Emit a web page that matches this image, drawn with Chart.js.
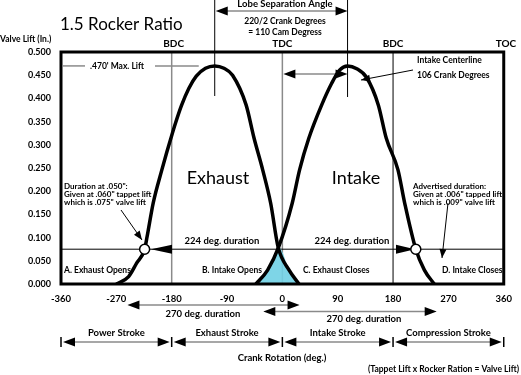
<!DOCTYPE html>
<html>
<head>
<meta charset="utf-8">
<script src="https://cdn.jsdelivr.net/npm/chart.js@4/dist/chart.umd.min.js"></script>
<style>
  html, body { margin: 0; padding: 0; background: #fff; }
  #wrap { width: 521px; height: 375px; }
</style>
</head>
<body>
<div id="wrap"><canvas id="cam" width="521" height="375"></canvas></div>
<script>
// crank degrees / valve lift
const exhaustDeg  = [-270, -250, -237, -224, -220, -210, -196, -188, -182, -174, -164, -152, -140, -125, -110, -95, -81, -59, -46, -32, -19, -7, 11, 27];
const exhaustLift = [0, 0.016, 0.045, 0.075, 0.102, 0.175, 0.246, 0.284, 0.311, 0.346, 0.385, 0.422, 0.448, 0.465, 0.470, 0.465, 0.450, 0.386, 0.314, 0.246, 0.174, 0.080, 0.030, 0];
const intakeDeg   = [-43, -24, -6, 16, 28, 43, 64, 80, 93, 106, 121, 137, 156, 169, 188, 199, 217, 231, 247];
const intakeLift  = [0, 0.030, 0.080, 0.174, 0.246, 0.314, 0.386, 0.432, 0.461, 0.470, 0.464, 0.445, 0.386, 0.314, 0.246, 0.174, 0.075, 0.030, 0];
const overlapDeg  = [-43, -24, -5, 11, 27];
const overlapLift = [0, 0.030, 0.078, 0.030, 0];
const markerDeg   = [-224, 217];
const markerLift  = [0.075, 0.075];
const crankTicks  = [-360, -270, -180, -90, 0, 90, 180, 270, 360];
const liftTicks   = [0, 0.05, 0.1, 0.15, 0.2, 0.25, 0.3, 0.35, 0.4, 0.45, 0.5];

const FONT = 'Lato, "Open Sans", sans-serif';
const GREY = '#8a8a8a';

const pts = (xs, ys) => xs.map((v, i) => ({ x: v, y: ys[i] }));

function head(ctx, x, y, ang, len, half) {
    ctx.save();
    ctx.translate(x, y);
    ctx.rotate(ang);
    ctx.beginPath();
    ctx.moveTo(0, 0);
    ctx.lineTo(-len, -half);
    ctx.lineTo(-len, half);
    ctx.closePath();
    ctx.fillStyle = '#000';
    ctx.fill();
    ctx.restore();
}

function hline(ctx, x1, x2, y, color, w) {
    ctx.beginPath();
    ctx.moveTo(x1, y);
    ctx.lineTo(x2, y);
    ctx.strokeStyle = color;
    ctx.lineWidth = w;
    ctx.stroke();
}

function vline(ctx, x, y1, y2, color, w) {
    ctx.beginPath();
    ctx.moveTo(x, y1);
    ctx.lineTo(x, y2);
    ctx.strokeStyle = color;
    ctx.lineWidth = w;
    ctx.stroke();
}

// double headed grey arrow
function span(ctx, x1, x2, y) {
    hline(ctx, x1 + 6, x2 - 6, y, GREY, 1.5);
    head(ctx, x1, y, Math.PI, 12, 4.5);
    head(ctx, x2, y, 0, 12, 4.5);
}

function pointer(ctx, x1, y1, x2, y2) {
    ctx.beginPath();
    ctx.moveTo(x1, y1);
    ctx.lineTo(x2, y2);
    ctx.strokeStyle = '#000';
    ctx.lineWidth = 1;
    ctx.stroke();
    head(ctx, x2, y2, Math.atan2(y2 - y1, x2 - x1), 9, 3.5);
}

function text(ctx, s, x, y, font, align) {
    ctx.font = font;
    ctx.textAlign = align || 'left';
    ctx.textBaseline = 'middle';
    ctx.fillStyle = '#000';
    ctx.fillText(s, x, y);
}

const annotations = {
    id: 'annotations',
    beforeDatasetsDraw(chart) {
        const { ctx, chartArea: a, scales: { x, y } } = chart;
        ctx.save();
        // BDC / TDC / BDC lines
        vline(ctx, x.getPixelForValue(-180), a.top, a.bottom, GREY, 1.5);
        vline(ctx, x.getPixelForValue(0), a.top, a.bottom, GREY, 1.5);
        vline(ctx, x.getPixelForValue(180), a.top, a.bottom, '#000', 1);
        // .075 valve lift line
        hline(ctx, a.left, a.right, y.getPixelForValue(0.075), '#000', 1);
        // max lift
        const ym = y.getPixelForValue(0.47);
        hline(ctx, a.left + 2, 85, ym, GREY, 1.5);
        hline(ctx, 155, x.getPixelForValue(-136), ym, GREY, 1.5);
        text(ctx, ".470' Max. Lift", 90, ym, 'bold 8.5px ' + FONT);
        // TDC to intake centerline
        span(ctx, x.getPixelForValue(0) + 1, x.getPixelForValue(106), 74);
        // duration arrowheads on the .075 line
        const yd = y.getPixelForValue(0.075);
        head(ctx, 151, yd, Math.PI, 21, 4.5);
        head(ctx, 415, yd, 0, 19, 4.5);
        ctx.restore();
    },
    afterDraw(chart) {
        const { ctx, chartArea: a, scales: { x, y } } = chart;
        ctx.save();
        // frame
        ctx.strokeStyle = '#000';
        ctx.lineWidth = 3;
        ctx.strokeRect(a.left, a.top, a.right - a.left, a.bottom - a.top);

        // centerlines and lobe separation
        const xe = x.getPixelForValue(-110), xi = x.getPixelForValue(106);
        vline(ctx, xe, 0, 96, '#000', 1);
        vline(ctx, xi, 0, 97, '#000', 1);
        span(ctx, xe + 1, xi, 11);
        const small = 'bold 8.5px ' + FONT;
        const mid = 'bold 9.5px ' + FONT;
        text(ctx, 'Lobe Separation Angle', 285, 4, mid, 'center');
        text(ctx, '220/2 Crank Degrees', 285, 21.5, small, 'center');
        text(ctx, '= 110 Cam Degress', 285, 32.5, small, 'center');

        text(ctx, '1.5 Rocker Ratio', 60, 25, '17px ' + FONT);
        text(ctx, 'Valve Lift (In.)', 0, 39, small);

        const big = 'bold 10px ' + FONT;
        text(ctx, 'BDC', x.getPixelForValue(-180) + 2, 44, big, 'center');
        text(ctx, 'TDC', x.getPixelForValue(0), 44, big, 'center');
        text(ctx, 'BDC', x.getPixelForValue(180), 44, big, 'center');
        text(ctx, 'TOC', 506, 44, big, 'center');

        text(ctx, 'Intake Centerline', 417, 60, small);
        text(ctx, '106 Crank Degrees', 417, 75, small);
        pointer(ctx, 413, 70, 361, 80);

        text(ctx, 'Exhaust', 218, 178, '18px ' + FONT, 'center');
        text(ctx, 'Intake', 356, 178, '18px ' + FONT, 'center');

        const note = 'bold 8px ' + FONT;
        text(ctx, 'Duration at .050":', 64, 186, note);
        text(ctx, 'Given at .060" tappet lift', 64, 194, note);
        text(ctx, 'which is .075" valve lift', 64, 202, note);
        pointer(ctx, 121, 210, 142, 240);

        text(ctx, 'Advertised duration:', 413, 186, note);
        text(ctx, 'Given at .006" tapped lift', 413, 194, note);
        text(ctx, 'which is .009" valve lift', 413, 202, note);
        pointer(ctx, 448, 203, 442, 258);

        text(ctx, '224 deg. duration', 222, 241, mid, 'center');
        text(ctx, '224 deg. duration', 352, 241, mid, 'center');

        text(ctx, 'A. Exhaust Opens', 64, 270, small);
        text(ctx, 'B. Intake Opens', 202, 270, small);
        text(ctx, 'C. Exhaust Closes', 303, 270, small);
        text(ctx, 'D. Intake Closes', 442, 270, small);

        // advertised 270 deg durations
        span(ctx, x.getPixelForValue(-252), x.getPixelForValue(28), 305);
        text(ctx, '270 deg. duration', 203, 314, mid, 'center');
        span(ctx, x.getPixelForValue(-31), x.getPixelForValue(251), 311.5);
        text(ctx, '270 deg. duration', 364, 319, mid, 'center');

        // strokes
        const bars = [-360, -180, 0, 180, 360].map(v => x.getPixelForValue(v));
        const names = ['Power Stroke', 'Exhaust Stroke', 'Intake Stroke', 'Compression Stroke'];
        bars.forEach(b => vline(ctx, b, 337, 347, '#000', 1.5));
        for (let i = 0; i < 4; i++) {
            span(ctx, bars[i] + 2, bars[i + 1] - 2, 342);
            text(ctx, names[i], (bars[i] + bars[i + 1]) / 2, 333, mid, 'center');
        }
        text(ctx, 'Crank Rotation (deg.)', 282, 358, mid, 'center');
        text(ctx, '(Tappet Lift x Rocker Ration = Valve Lift)', 519, 369, small, 'right');
        ctx.restore();
    }
};

const lobe = {
    borderColor: '#000',
    borderWidth: 3.5,
    pointRadius: 0,
    fill: false,
    cubicInterpolationMode: 'monotone',
    order: 1
};

new Chart(document.getElementById('cam'), {
    type: 'line',
    data: {
        datasets: [
            Object.assign({ label: 'Exhaust', data: pts(exhaustDeg, exhaustLift) }, lobe),
            Object.assign({ label: 'Intake', data: pts(intakeDeg, intakeLift) }, lobe),
            {
                label: 'Overlap',
                data: pts(overlapDeg, overlapLift),
                borderWidth: 0,
                pointRadius: 0,
                backgroundColor: 'rgba(112, 208, 228, 0.9)',
                fill: 'origin',
                cubicInterpolationMode: 'monotone',
                order: 3
            },
            {
                label: 'Duration points',
                data: pts(markerDeg, markerLift),
                showLine: false,
                pointRadius: 5,
                pointBackgroundColor: '#fff',
                pointBorderColor: '#000',
                pointBorderWidth: 1.5,
                order: 0
            }
        ]
    },
    options: {
        responsive: false,
        animation: false,
        devicePixelRatio: 1,
        layout: { padding: { left: 0, right: 13, top: 52, bottom: 0 } },
        plugins: { legend: { display: false }, tooltip: { enabled: false } },
        scales: {
            x: {
                type: 'linear',
                min: -360,
                max: 360,
                afterBuildTicks: s => { s.ticks = crankTicks.map(v => ({ value: v })); },
                afterFit: s => { s.height = 91; },
                grid: { display: false, drawTicks: false },
                border: { display: false },
                ticks: {
                    padding: 9,
                    color: '#000',
                    maxRotation: 0,
                    font: { family: FONT, size: 9.5, weight: 'bold' }
                }
            },
            y: {
                min: 0,
                max: 0.5,
                afterBuildTicks: s => { s.ticks = liftTicks.map(v => ({ value: v })); },
                afterFit: s => { s.width = 61; },
                grid: { display: false, drawTicks: false },
                border: { display: false },
                ticks: {
                    padding: 10,
                    color: '#000',
                    font: { family: FONT, size: 9, weight: 'bold' },
                    callback: v => v.toFixed(3)
                }
            }
        }
    },
    plugins: [annotations]
});
</script>
</body>
</html>
